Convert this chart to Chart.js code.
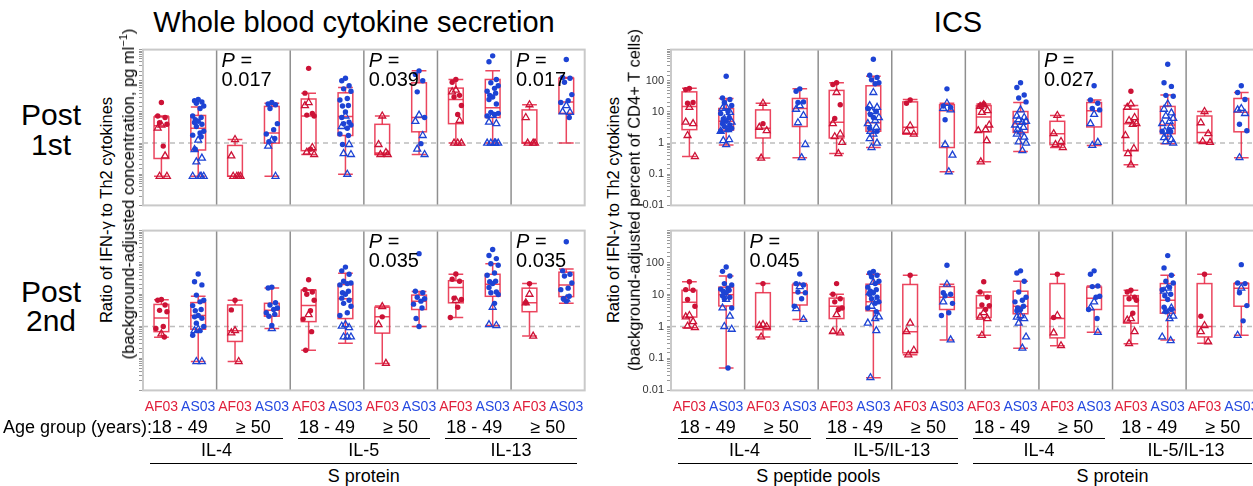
<!DOCTYPE html>
<html>
<head>
<meta charset="utf-8">
<script src="https://cdn.jsdelivr.net/npm/chart.js@4.4.0/dist/chart.umd.min.js"></script>
<style>
  body { margin: 0; width: 1253px; height: 486px; overflow: hidden; background: #fff;
         font-family: 'Liberation Sans', Arial, sans-serif; position: relative; }
  .wrap { position: absolute; }
  .lbl { position: absolute; white-space: nowrap; color: #000; transform: translate(-50%, -50%); line-height: 1; }
  .left { transform: translate(0, -50%); }
  .rot { transform: translate(-50%, -50%) rotate(-90deg); }
  .hline { position: absolute; height: 0; border-top: 1.3px solid #000; }
</style>
</head>
<body>

<div class="wrap" id="wb1wrap" style="left:133px; top:40px; width:457px; height:175px"><canvas id="wb1"></canvas></div>
<div class="wrap" id="wb2wrap" style="left:133px; top:221px; width:457px; height:179px"><canvas id="wb2"></canvas></div>
<div class="wrap" id="ics1wrap" style="left:627px; top:40px; width:638px; height:175px"><canvas id="ics1"></canvas></div>
<div class="wrap" id="ics2wrap" style="left:627px; top:221px; width:638px; height:179px"><canvas id="ics2"></canvas></div>

<script>
/* ---------- data: whole blood, post 1st dose (6 groups: IL-4, IL-5, IL-13 x 18-49 / >=50) ---------- */
// box stats are [min, q1, median, q3, max]
let wb1AfBoxes = [[0.086, 0.32, 3.6, 6.9, 7.4], [0.086, 0.086, 0.086, 0.84, 1.3], [0.43, 0.57, 7.4, 26, 40],
                  [0.43, 0.43, 0.48, 4, 7.4], [1, 4.2, 25, 58, 110], [1, 1, 1.05, 11.6, 17]]
let wb1AsBoxes = [[0.086, 0.6, 3.0, 7.7, 14.4], [0.086, 1.0, 2.1, 15, 19], [0.10, 1.75, 7.1, 41, 61],
                  [0.43, 2.3, 6.6, 86, 208], [1, 6.6, 13.5, 110, 208], [1, 9, 21, 120, 128]]
let wb1AfDots = [[20, 7.4, 6.6, 4.5, 4.0, 0.8], [], [250, 40, 8.9, 7.9, 7.4, 0.64], [], [110, 90, 34, 30, 16, 8.3], []]
let wb1AfTris = [[3.8, 3.0, 0.39, 0.086, 0.086], [1.3, 0.39, 0.086, 0.086, 0.086, 0.086], [20, 16, 0.72, 0.51, 0.43],
                 [7.4, 0.9, 0.5, 0.43, 0.43], [50, 44, 5.3, 1, 1, 1], [17, 6.6, 1, 1, 1]]
let wb1AsDots = [[25, 23, 21, 19, 15.5, 12.9, 7.4, 6.6, 5.6, 5, 4.6, 4, 3.4, 2.4, 2.1, 1.8, 1.6, 0.64],
                 [20, 18, 17, 12.9, 4.2, 2.7, 1.95, 1.4, 1.1],
                 [120, 100, 69, 55, 46, 27, 24, 16, 15.5, 10, 6.6, 4.7, 4.2, 3.8, 3, 1.95, 1.75, 0.9],
                 [208, 160, 100, 44, 6.6, 0.96],
                 [630, 406, 110, 86, 69, 57, 46, 40, 34, 30, 25, 18, 9.7, 9, 8.3, 7.4],
                 [480, 128, 120, 90, 36, 23, 20, 6.6]]
let wb1AsTris = [[1.25, 0.62, 0.33, 0.25, 0.086, 0.086, 0.086, 0.086], [1.25, 0.8, 0.086], [7.4, 3.4, 0.9, 0.46, 0.43, 0.10],
                 [7.9, 5, 1.75, 0.64, 0.43], [7.7, 4.7, 4.2, 1, 1, 1, 1, 1], [16, 10, 9.7]]

/* ---------- data: whole blood, post 2nd dose ---------- */
let wb2AfBoxes = [[0.46, 0.69, 1.85, 4.9, 6.9], [0.08, 0.34, 0.74, 4.7, 6.6], [0.18, 1.42, 4.5, 13.6, 14.2],
                  [0.07, 0.62, 2, 4, 4.4], [1.9, 5.5, 16.6, 27, 43], [0.5, 2.9, 5.5, 15.8, 22]]
let wb2AsBoxes = [[0.08, 0.82, 2.2, 5.6, 8.8], [0.86, 2.1, 3.2, 5.3, 16], [0.3, 1.77, 7.4, 20.6, 46],
                  [1, 3.4, 6.2, 9.6, 12.5], [1.07, 8.8, 21, 43, 92], [5.3, 8.6, 20, 50, 63]]
let wb2AfDots = [[7, 6.6, 4.7, 3.2, 2.9, 1.0, 0.86, 0.47], [6.6, 3.3], [29, 14.2, 12, 10.2, 6.6, 3.1, 1.7, 0.69, 0.18],
                 [2], [44, 30, 26, 7.7, 7, 4, 1.9], [22, 5.5]]
let wb2AfTris = [[0.59], [0.74, 0.63, 0.08], [2.35], [4.2, 1.14, 0.07], [6.6], [10.2, 5.5, 0.5]]
let wb2AsDots = [[44, 25, 20, 9.6, 6.6, 5.9, 4.5, 3.4, 3.1, 2.2, 2, 1.8, 1.27, 1, 0.74, 0.53],
                 [17, 16, 5.5, 4.7, 3.8, 3.4, 2.7, 2.4, 2.1, 1.07],
                 [72, 55, 43, 26, 23, 22, 20, 12.7, 11.4, 10.2, 7.7, 6.6, 5.3, 4.3, 2.7, 2.2],
                 [190, 12.7, 11.4, 8.2, 7.4, 6.2, 5, 3.8, 1.77, 1.0],
                 [255, 166, 133, 92, 82, 47, 40, 26, 25, 22, 16.6, 12, 11.4, 10, 5.3],
                 [450, 55, 43, 38, 23, 15.8, 14.2, 8.8, 7.4, 6.2]]
let wb2AsTris = [[0.82, 0.74, 0.08, 0.08], [0.86], [1.14, 1.02, 0.92, 0.47, 0.47, 0.47], [], [4, 1.14, 1.07], [7.2]]

/* ---------- data: ICS, post 1st dose (8 groups: peptide IL-4, IL-5/IL-13, protein IL-4, IL-5/IL-13 x age) ---------- */
let ics1AfBoxes = [[0.37, 2.7, 15, 44, 57], [0.33, 1.46, 3, 11.6, 19], [0.46, 1.46, 4.7, 49, 86], [1.95, 1.95, 3.2, 21, 25],
                   [0.25, 2.3, 6.9, 16, 18], [0.72, 0.89, 2, 5, 7.7], [0.2, 0.57, 4.2, 12.2, 16], [1.05, 1.05, 2.2, 7.4, 10.3]]
let ics1AsBoxes = [[0.86, 2.6, 5, 12.9, 27], [0.34, 3.4, 12.9, 27, 55], [0.72, 2.4, 4.5, 69, 140], [0.12, 0.72, 11, 17, 19],
                   [0.54, 2.2, 4.2, 10.3, 20], [0.84, 3.3, 11, 20, 24], [0.96, 2.0, 3.8, 15, 35], [0.34, 2.3, 9.7, 27, 42]]
let ics1AfDots = [[57, 52, 20, 19], [4.2], [86, 76, 17, 6.2], [24, 19], [18, 16], [], [46], []]
let ics1AfTris = [[14, 4.7, 4.2, 1.75, 0.37], [19, 3.2, 2.5, 0.33], [42, 4.2, 1.95, 1.6, 1.05, 0.46], [3.6, 2.4, 1.95],
                  [17, 15, 11, 9.7, 3.8, 2.7, 2.5, 1.2, 0.25], [7.7, 2, 1.12, 0.89, 0.72],
                  [18, 14, 6.6, 5.3, 4.2, 4, 1.75, 0.67, 0.46, 0.2], [10.3, 4.5, 2, 1.12, 1.05]]
let ics1AsDots = [[140, 28, 25, 20, 16, 10.3, 8.9, 6.6, 5.9, 5, 4.2, 3.8, 3.4, 3, 2.7, 2.4], [55, 46, 21, 20],
                  [490, 150, 128, 107, 86, 80, 12.9, 10.3, 8.3, 6.6, 3, 2.4], [55, 15.5, 14, 5.6],
                  [86, 61, 35, 28, 21], [69, 24, 19, 12.9, 11.6], [340, 86, 66, 34, 32, 2.7, 2.4, 2.3], [69, 42, 25, 4, 2.5]]
let ics1AsTris = [[14.4, 12.9, 9.7, 5.9, 4.7, 2.7, 2.4, 1.3, 1.2, 0.89], [16, 12.2, 7.7, 4.5, 0.9, 0.34],
                  [42, 16, 14, 10.3, 6.6, 5.3, 4.2, 3.2, 2.4, 1.95, 1.4, 1, 0.72], [19, 12.9, 11.6, 0.89, 0.41, 0.12],
                  [11.6, 7.4, 6.6, 5.6, 5, 4.6, 3.8, 3.2, 2.7, 2.3, 1.95, 1.56, 1.1, 1, 0.57], [8.3, 4.2, 1.05, 0.84],
                  [18, 12.2, 9.3, 7.4, 6.2, 5, 4.2, 3.4, 2.4, 1.95, 1.5, 1.3, 1.12, 1], [12.9, 11.6, 8.9, 0.34]]

/* ---------- data: ICS, post 2nd dose ---------- */
let ics2AfBoxes = [[0.92, 1.97, 5.7, 13.6, 25], [0.47, 0.79, 1.0, 11.4, 22], [0.63, 1.77, 4.3, 7.7, 10.2], [0.13, 0.15, 0.69, 20.6, 40],
                   [0.53, 1.9, 3.8, 9.2, 12], [0.25, 0.44, 1.77, 22, 43], [0.29, 1.27, 4.4, 9.2, 13.6], [0.3, 0.47, 1, 22, 43]]
let ics2AsBoxes = [[0.05, 4.4, 9.8, 17, 38], [1.66, 4.7, 11.4, 20, 22], [0.025, 3.1, 5.9, 21, 43], [0.38, 3.4, 8.2, 17.7, 21],
                   [0.21, 2.5, 4.3, 12.7, 26], [0.66, 3.4, 7.7, 17, 18.5], [0.38, 2.6, 6.6, 22, 40], [0.53, 4.3, 15.8, 22, 23]]
let ics2AfDots = [[25, 14.2, 13.6, 7, 4.3], [22], [22, 10.2, 7.4, 5.9, 3.8, 3.4], [40], [25, 12, 8.2, 4.7, 4.5, 3.4],
                  [43, 1.9], [13.6, 12, 8.2, 7.4, 6.6, 2.6], [43, 2.1]]
let ics2AfTris = [[2.2, 2, 1.42, 1.02, 0.92], [1.14, 1.07, 1.0, 0.47], [2.35, 0.69, 0.63], [1.27, 0.69, 0.18, 0.13],
                  [2.7, 1.97, 1.77, 0.53], [2.2, 0.63, 0.25], [1.77, 1.58, 0.69, 0.29], [1.07, 0.69, 0.33]]
let ics2AsDots = [[73, 53, 38, 22, 20, 15.8, 14.8, 13.6, 12.7, 11.4, 9.2, 8.2, 7.4, 3.8, 0.05], [44, 22, 20, 12, 11.4, 7.4, 4.3],
                  [53, 47, 40, 36, 26, 22, 17, 14.2, 12.7, 11.4, 10.2, 8.2, 7.4, 5.9, 5.3, 3.8, 2.9],
                  [82, 11.4, 10.2, 9.2, 5.3, 2.7, 2.2], [55, 47, 26, 12, 8.2, 6.6, 5.9, 4.3, 3.8, 3.4, 3.1],
                  [55, 43, 18.5, 17.7, 8.8, 8.2, 3.4, 1.77], [165, 68, 40, 26, 23, 17, 14.2, 10.2, 9.2, 7, 4, 3.4, 2.9],
                  [86, 23, 22, 11.4, 4.5, 1.5]]
let ics2AsTris = [[7, 3.8, 2.1, 1, 0.82], [17.7, 3.6, 1.66], [24, 11.4, 6.6, 4.3, 2, 1.77, 1.27, 0.74, 0.025], [21, 5.9, 0.38],
                  [2.2, 1.97, 1.77, 1.27, 0.47, 0.21], [5.9, 3.8, 0.66], [15.8, 12.7, 3.8, 3.1, 2.1, 1.77, 0.47, 0.36], [15.8, 0.53]]

/* ---------- labels ---------- */
let wbAges = ['18 - 49', '\u2265 50', '18 - 49', '\u2265 50', '18 - 49', '\u2265 50']
let wbCytokines = ['IL-4', 'IL-5', 'IL-13']
let icsAges = ['18 - 49', '\u2265 50', '18 - 49', '\u2265 50', '18 - 49', '\u2265 50', '18 - 49', '\u2265 50']
let icsCytokines = ['IL-4', 'IL-5/IL-13', 'IL-4', 'IL-5/IL-13']
let icsStimuli = ['S peptide pools', 'S protein']
// p values: [group index, text]
let wb1P = [[1, '0.017'], [3, '0.039'], [5, '0.017']]
let wb2P = [[3, '0.035'], [5, '0.035']]
let ics1P = [[5, '0.027']]
let ics2P = [[1, '0.045']]

let red = '#cc1236'
let redLine = 'rgba(232, 36, 66, 0.85)'
let blue = '#1d43d4'
let fontFam = "'Liberation Sans', Arial, sans-serif"

// horizontal spread of points inside a box (in group units)
let jit = [0, -0.05, 0.05, -0.025, 0.075, 0.025, -0.075, 0.04, -0.04]

function pts(list, offset) {
    let out = []
    list.forEach(function(vals, g) {
        vals.forEach(function(v, i) { out.push({ x: g + offset + jit[i % jit.length], y: v }) })
    })
    return out
}

function panelPlugin(nGroups, afBoxes, asBoxes) {
    return {
        id: 'panel',
        beforeDatasetsDraw(chart) {
            let ctx = chart.ctx, a = chart.chartArea, x = chart.scales.x, y = chart.scales.y
            ctx.save()
            // reference line at ratio = 1
            let y1 = y.getPixelForValue(1)
            ctx.strokeStyle = '#bdbdbd'; ctx.lineWidth = 1.5; ctx.setLineDash([5, 4])
            ctx.beginPath(); ctx.moveTo(a.left, y1); ctx.lineTo(a.right, y1); ctx.stroke()
            ctx.setLineDash([])
            // group separators
            ctx.strokeStyle = '#8f8f8f'; ctx.lineWidth = 1.5
            for (let i = 1; i < nGroups; i++) {
                let xp = x.getPixelForValue(i)
                ctx.beginPath(); ctx.moveTo(xp, a.top); ctx.lineTo(xp, a.bottom); ctx.stroke()
            }
            // boxes
            ctx.strokeStyle = redLine; ctx.lineWidth = 1.5
            let drawBox = function(b, xv) {
                let xc = x.getPixelForValue(xv)
                let hw = x.getPixelForValue(xv + 0.1) - xc
                let pMin = y.getPixelForValue(b[0]), pQ1 = y.getPixelForValue(b[1]), pMed = y.getPixelForValue(b[2])
                let pQ3 = y.getPixelForValue(b[3]), pMax = y.getPixelForValue(b[4])
                ctx.strokeRect(xc - hw, pQ3, 2 * hw, pQ1 - pQ3)
                ctx.beginPath()
                ctx.moveTo(xc - hw, pMed); ctx.lineTo(xc + hw, pMed)
                ctx.moveTo(xc, pQ3); ctx.lineTo(xc, pMax)
                ctx.moveTo(xc, pQ1); ctx.lineTo(xc, pMin)
                ctx.moveTo(xc - hw, pMax); ctx.lineTo(xc + hw, pMax)
                ctx.moveTo(xc - hw, pMin); ctx.lineTo(xc + hw, pMin)
                ctx.stroke()
            }
            afBoxes.forEach(function(b, g) { drawBox(b, g + 0.25) })
            asBoxes.forEach(function(b, g) { drawBox(b, g + 0.75) })
            // frame
            ctx.strokeStyle = '#c9c9c9'; ctx.lineWidth = 2
            ctx.strokeRect(a.left, a.top, a.right - a.left, a.bottom - a.top)
            ctx.restore()
        }
    }
}

function makePanel(id, nGroups, afBoxes, asBoxes, afDots, afTris, asDots, asTris, axisWidth, showLabels) {
    let ctx = document.querySelector('#' + id).getContext('2d')
    return new Chart(ctx, {
        type: 'scatter',
        data: {
            datasets: [
                { data: pts(afTris, 0.25), pointStyle: 'triangle', pointRadius: 4, borderWidth: 1.3,
                  borderColor: red, backgroundColor: 'rgba(0,0,0,0)' },
                { data: pts(asTris, 0.75), pointStyle: 'triangle', pointRadius: 4, borderWidth: 1.3,
                  borderColor: blue, backgroundColor: 'rgba(0,0,0,0)' },
                { data: pts(afDots, 0.25), pointStyle: 'circle', pointRadius: 2.7, borderWidth: 0,
                  backgroundColor: red },
                { data: pts(asDots, 0.75), pointStyle: 'circle', pointRadius: 2.7, borderWidth: 0,
                  backgroundColor: blue }
            ]
        },
        options: {
            responsive: true,
            maintainAspectRatio: false,
            animation: false,
            layout: { padding: { top: 2, right: 2, bottom: 2, left: 0 } },
            plugins: { legend: { display: false }, tooltip: { enabled: false } },
            scales: {
                x: { type: 'linear', min: 0, max: nGroups, display: false },
                y: {
                    type: 'logarithmic', min: 0.01, max: 1000,
                    afterFit: function(scale) { scale.width = axisWidth },
                    border: { display: false },
                    grid: { drawOnChartArea: false, drawTicks: true, tickLength: 4, color: '#9a9a9a' },
                    ticks: {
                        autoSkip: false, padding: 3, color: '#333', font: { size: 11, family: fontFam },
                        callback: function(value) {
                            if (!showLabels) return ''
                            let l = Math.log10(value)
                            if (Math.abs(l - Math.round(l)) > 1e-6 || value >= 1000) return ''
                            return String(Number(value.toPrecision(3)))
                        }
                    }
                }
            }
        },
        plugins: [panelPlugin(nGroups, afBoxes, asBoxes)]
    })
}

let wb1 = makePanel('wb1', 6, wb1AfBoxes, wb1AsBoxes, wb1AfDots, wb1AfTris, wb1AsDots, wb1AsTris, 10, false)
let wb2 = makePanel('wb2', 6, wb2AfBoxes, wb2AsBoxes, wb2AfDots, wb2AfTris, wb2AsDots, wb2AsTris, 10, false)
let ics1 = makePanel('ics1', 8, ics1AfBoxes, ics1AsBoxes, ics1AfDots, ics1AfTris, ics1AsDots, ics1AsTris, 44, true)
let ics2 = makePanel('ics2', 8, ics2AfBoxes, ics2AsBoxes, ics2AfDots, ics2AfTris, ics2AsDots, ics2AsTris, 44, true)

/* ---------- text around the charts ---------- */
function addText(html, x, y, size, cls, extra) {
    let d = document.createElement('div')
    d.className = 'lbl' + (cls ? ' ' + cls : '')
    d.innerHTML = html
    d.style.left = x + 'px'
    d.style.top = y + 'px'
    d.style.fontSize = size + 'px'
    if (extra) Object.assign(d.style, extra)
    document.body.appendChild(d)
}
function addLine(x1, x2, y) {
    let d = document.createElement('div')
    d.className = 'hline'
    d.style.left = x1 + 'px'; d.style.width = (x2 - x1) + 'px'; d.style.top = y + 'px'
    document.body.appendChild(d)
}
// page x of a group position, using the chart's own x scale
function px(chart, wrapId, v) {
    return document.querySelector('#' + wrapId).offsetLeft + chart.scales.x.getPixelForValue(v)
}
function pageTop(chart, wrapId) {
    return document.querySelector('#' + wrapId).offsetTop + chart.chartArea.top
}

addText('Whole blood cytokine secretion', 354, 22, 29)
addText('ICS', 958, 22, 29)
addText('Post', 51, 115, 30); addText('1st', 51, 145, 30)
addText('Post', 51, 292, 30); addText('2nd', 51, 321, 30)

addText('Ratio of IFN-\u03b3 to Th2 cytokines', 106, 210, 16.5, 'rot')
addText('(background-adjusted concentration, pg ml<sup style="font-size:11px">\u22121</sup>)', 127, 194, 16.5, 'rot')
addText('Ratio of IFN-\u03b3 to Th2 cytokines', 613, 210, 16.5, 'rot')
addText('(background-adjusted percent of CD4+ T cells)', 634, 200, 16.5, 'rot')

function pLabels(chart, wrapId, list) {
    list.forEach(function(p) {
        let x = px(chart, wrapId, p[0]) + 5
        let t = pageTop(chart, wrapId)
        addText('<i>P</i> =', x, t + 10, 20, 'left')
        addText(p[1], x, t + 29, 20, 'left')
    })
}
pLabels(wb1, 'wb1wrap', wb1P)
pLabels(wb2, 'wb2wrap', wb2P)
pLabels(ics1, 'ics1wrap', ics1P)
pLabels(ics2, 'ics2wrap', ics2P)

function bottomLabels(chart, wrapId, ages, cytokines) {
    ages.forEach(function(age, g) {
        addText('AF03', px(chart, wrapId, g + 0.25), 406, 14, '', { color: '#e0203c' })
        addText('AS03', px(chart, wrapId, g + 0.75), 406, 14, '', { color: '#2448e0' })
        addText(age, px(chart, wrapId, g + 0.5), 427, 18)
    })
    cytokines.forEach(function(c, k) {
        let g = k * 2
        addLine(px(chart, wrapId, g + 0.1), px(chart, wrapId, g + 1.9), 438)
        addText(c, px(chart, wrapId, g + 1), 450, 18)
    })
}
bottomLabels(wb1, 'wb1wrap', wbAges, wbCytokines)
bottomLabels(ics1, 'ics1wrap', icsAges, icsCytokines)
addText('Age group (years):', 3, 427, 18, 'left')

addLine(px(wb1, 'wb1wrap', 0.1), px(wb1, 'wb1wrap', 5.9), 463)
addText('S protein', px(wb1, 'wb1wrap', 3), 476, 18)
icsStimuli.forEach(function(s, k) {
    let g = k * 4
    addLine(px(ics1, 'ics1wrap', g + 0.1), px(ics1, 'ics1wrap', g + 3.9), 463)
    addText(s, px(ics1, 'ics1wrap', g + 2), 476, 18)
})
</script>
</body>
</html>
